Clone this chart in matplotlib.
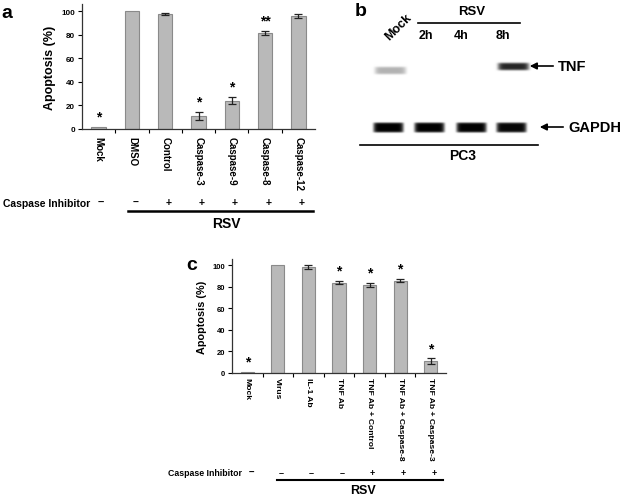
import numpy as np
import matplotlib
matplotlib.use('Agg')
import matplotlib.pyplot as plt
from matplotlib import transforms

plt.rcParams['font.family'] = ['Liberation Sans', 'DejaVu Sans']
plt.rcParams['font.weight'] = 'bold'

# panel a data
a_labels = ['Mock', 'DMSO', 'Control', 'Caspase-3', 'Caspase-9', 'Caspase-8', 'Caspase-12']
a_vals = [1.5, 100, 97.5, 11, 24, 81.5, 96]
a_errs = [0, 0, 1.0, 3.5, 3.0, 1.5, 1.5]
a_stars = ['*', '', '', '*', '*', '**', '']
a_inhib = ['–', '+', '+', '+', '+', '+']

# panel c data
c_labels = ['Mock', 'Virus', 'IL-1 Ab', 'TNF Ab', 'TNF Ab + Control',
            'TNF Ab + Caspase-8', 'TNF Ab + Caspase-3']
c_vals = [1, 100, 98.5, 84, 82, 86, 11]
c_errs = [0, 0, 1.5, 1.5, 2.0, 1.5, 2.5]
c_stars = ['*', '', '', '*', '*', '*', '*']
c_inhib = ['–', '–', '–', '+', '+', '+']

# panel b blot: lane centres (px) and band intensities
b_lanes = ['Mock', '2h', '4h', '8h']
b_lane_x = [388, 429, 471, 511]
b_tnf = [0.3, 0.0, 0.0, 0.85]
b_gapdh = [1.0, 1.0, 1.0, 0.97]

W, H = 625, 502
fig = plt.figure(figsize=(W / 100, H / 100), dpi=100)

bar_kw = dict(color='#b9b9b9', edgecolor='#8a8a8a', linewidth=0.8, width=0.43, zorder=2)


def bar_panel(rect, labels, vals, errs, stars, tick_fs, ytick_fs, ylab_fs, pad):
    ax = fig.add_axes(rect)
    x = np.arange(len(vals))
    ax.bar(x, vals, **bar_kw)
    m = np.array(errs) > 0
    ax.errorbar(x[m], np.array(vals)[m], yerr=np.array(errs)[m], fmt='none',
                ecolor='#222222', elinewidth=0.9, capsize=3.2, capthick=0.9, zorder=3)
    for xi, v, e, s in zip(x, vals, errs, stars):
        if s:
            ax.text(xi, v + e + 3, s, ha='center', va='bottom', fontsize=10, fontweight='bold')
    ax.set_xlim(-0.5, len(vals) - 0.5)
    ax.set_ylim(0, 106)
    ax.set_yticks(range(0, 101, 20))
    ax.tick_params(axis='y', labelsize=ytick_fs, length=3, width=0.8, direction='out', pad=2)
    ax.set_xticks(x)
    ax.set_xticklabels(labels, rotation=270, fontsize=tick_fs, fontweight='bold', va='top')
    ax.tick_params(axis='x', length=0, pad=pad)
    ax.set_xticks(x[1:] - 0.5, minor=True)
    ax.tick_params(axis='x', which='minor', length=3, width=0.8, direction='out')
    for lab in ax.get_yticklabels():
        lab.set_fontweight('bold')
    ax.set_ylabel('Apoptosis (%)', fontsize=ylab_fs, fontweight='bold', labelpad=4)
    for sp in ['top', 'right']:
        ax.spines[sp].set_visible(False)
    for sp in ['left', 'bottom']:
        ax.spines[sp].set_linewidth(0.9)
        ax.spines[sp].set_color('#333333')
    ax.set_facecolor('none')
    return ax


ax_a = bar_panel([82 / W, 1 - 130 / H, 233 / W, 125 / H], a_labels, a_vals, a_errs,
                 a_stars, 7, 5.8, 9, 5)
ax_c = bar_panel([232 / W, 1 - 374 / H, 214 / W, 114 / H], c_labels, c_vals, c_errs,
                 c_stars, 6.1, 5.5, 7.8, 3)

# overlay in pixel coordinates
ov = fig.add_axes([0, 0, 1, 1])
ov.set_facecolor('none')

# blot image
gx, gy = np.meshgrid(np.arange(355, 545), np.arange(40, 145))
img = np.zeros(gx.shape)
for lx, t, g in zip(b_lane_x, b_tnf, b_gapdh):
    ty = 67 if t > 0.5 else 71
    img += t * np.exp(-((gx - lx - 2) / 15.5) ** 8) * np.exp(-((gy - ty) / 3.8) ** 4)
    img += g * np.exp(-((gx - lx) / 15) ** 10) * np.exp(-((gy - 128) / 5) ** 6)
img = np.clip(img, 0, 1)
ov.imshow(img, cmap='gray_r', vmin=0, vmax=1.0, extent=(355, 545, 145, 40),
          aspect='auto', interpolation='bilinear', zorder=1)
ov.set_xlim(0, W)
ov.set_ylim(H, 0)
ov.axis('off')

txt = dict(ha='center', va='center', fontweight='bold')
# panel letters
ov.text(7, 13, 'a', fontsize=14, **txt)
ov.text(361, 11, 'b', fontsize=14, **txt)
ov.text(192, 266, 'c', fontsize=14, **txt)

# panel a inhibitor row
ov.text(3, 204, 'Caspase Inhibitor', fontsize=7.5, ha='left', va='center', fontweight='bold')
ov.text(101, 203, '–', fontsize=8, **txt)
tr_a = transforms.blended_transform_factory(ax_a.transData, ov.transData)
for i, s in enumerate(a_inhib):
    ov.text(i + 1 + 0.1, 203, s, fontsize=7.5, transform=tr_a, **txt)
ov.plot([128, 313], [212, 212], color='black', lw=1.8)
ov.text(226, 224, 'RSV', fontsize=10, **txt)

# panel c inhibitor row
ov.text(168, 474, 'Caspase Inhibitor', fontsize=6.3, ha='left', va='center', fontweight='bold')
ov.text(251, 473, '–', fontsize=7, **txt)
tr_c = transforms.blended_transform_factory(ax_c.transData, ov.transData)
for i, s in enumerate(c_inhib):
    ov.text(i + 1 + 0.1, 474, s, fontsize=6.5, transform=tr_c, **txt)
ov.plot([277, 443], [481, 481], color='black', lw=1.5)
ov.text(363, 491, 'RSV', fontsize=9, **txt)

# panel b labels
ov.text(398, 28, b_lanes[0], fontsize=9, rotation=45, **txt)
ov.text(472, 12, 'RSV', fontsize=9.5, **txt)
ov.plot([418, 520], [24, 24], color='black', lw=1.2)
for lx, lab in zip([426, 461, 503], b_lanes[1:]):
    ov.text(lx, 36, lab, fontsize=9, **txt)
ov.annotate('', xy=(527, 67), xytext=(556, 67),
            arrowprops=dict(arrowstyle='-|>', color='black', lw=1.2, mutation_scale=10))
ov.text(558, 67, 'TNF', fontsize=10.5, ha='left', va='center', fontweight='bold')
ov.annotate('', xy=(537, 128), xytext=(566, 128),
            arrowprops=dict(arrowstyle='-|>', color='black', lw=1.2, mutation_scale=10))
ov.text(568, 128, 'GAPDH', fontsize=10.5, ha='left', va='center', fontweight='bold')
ov.plot([360, 538], [146, 146], color='black', lw=1.2)
ov.text(463, 156, 'PC3', fontsize=10, **txt)

fig.savefig('out.png', dpi=100)
